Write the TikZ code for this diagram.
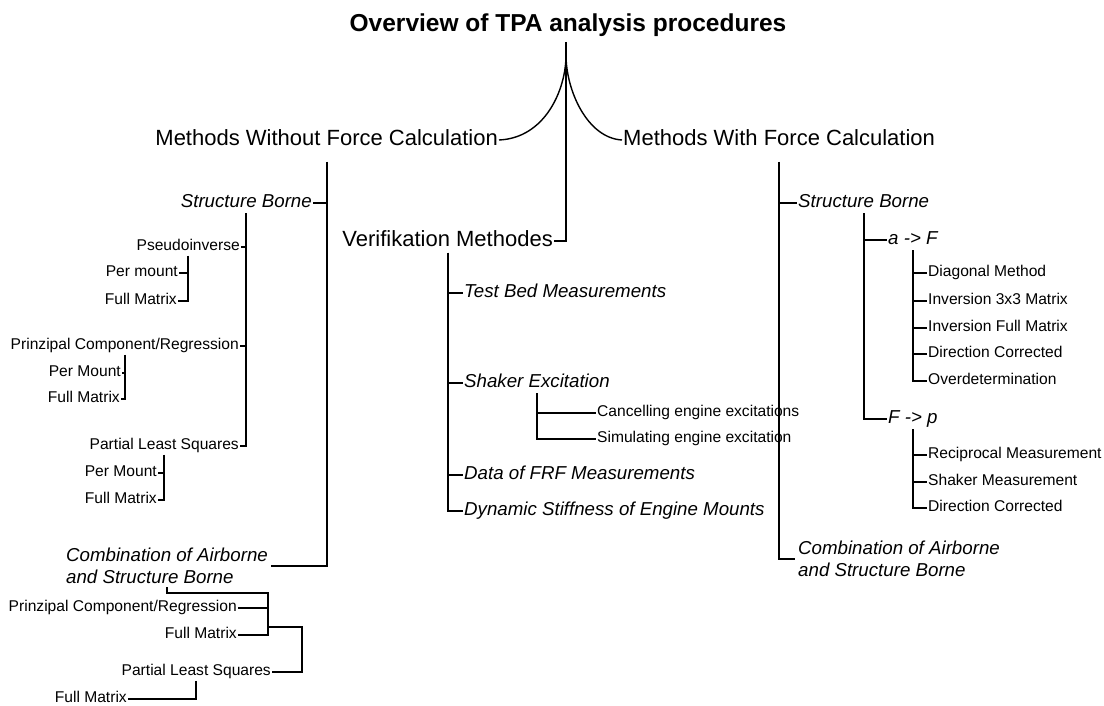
\documentclass[tikz,border=0pt]{standalone}
\usepackage{fontspec}
\setmainfont{Liberation Sans}
\usepackage{tikz}
\usetikzlibrary{calc}

\tikzset{
  lbl/.style={inner sep=1pt},
  headline/.style={lbl, font=\fontsize{24.5}{28}\selectfont\bfseries, text height=17.6pt, text depth=6.1pt},
  topic/.style={lbl, font=\fontsize{22}{26}\selectfont, text height=15.8pt, text depth=5.5pt},
  subtopic/.style={lbl, font=\fontsize{18.7}{22}\selectfont\itshape, text height=13.5pt, text depth=4.7pt},
  leaf/.style={lbl, font=\fontsize{15.6}{18}\selectfont, text height=11.2pt, text depth=3.9pt},
  twoline/.style={font=\fontsize{18.7}{22}\selectfont\itshape, align=left, inner sep=3pt},
  link/.style={line width=1.8pt},
  fork/.style={line width=1.4pt},
}

\begin{document}
\begin{tikzpicture}[x=1pt, y=-1pt]
  \useasboundingbox (0,0) rectangle (1104,706);

  % root and the three main branches
  \node[headline] (title) at (568,26) {Overview of TPA analysis procedures};
  \coordinate (stemtop) at (566,42);
  \coordinate (cusp) at (566,55);
  \node[topic, anchor=east] (mwo) at (499,140) {Methods Without Force Calculation};
  \node[topic, anchor=west] (mw) at (622,140) {Methods With Force Calculation};
  \node[topic, anchor=east] (vm) at (554,241) {Verifikation Methodes};

  \draw[fork] (mwo.east) .. controls (545,138) and (566,90) .. (cusp);
  \draw[fork] (mw.west) .. controls (587,138) and (566,90) .. (cusp);
  \draw[link] (stemtop) |- (vm.east);

  % without force calculation
  \node[subtopic, anchor=east] (lsb) at (313,203) {Structure Borne};
  \node[leaf, anchor=east] (lpi) at (241,247) {Pseudoinverse};
  \node[leaf, anchor=east] (lpm1) at (179,273) {Per mount};
  \node[leaf, anchor=east] (lfm1) at (178,301) {Full Matrix};
  \node[leaf, anchor=east] (lpc) at (240,346) {Prinzipal Component/Regression};
  \node[leaf, anchor=east] (lpm2) at (122,373) {Per Mount};
  \node[leaf, anchor=east] (lfm2) at (121,399) {Full Matrix};
  \node[leaf, anchor=east] (lpls) at (240,446) {Partial Least Squares};
  \node[leaf, anchor=east] (lpm3) at (158,473) {Per Mount};
  \node[leaf, anchor=east] (lfm3) at (158,500) {Full Matrix};
  \node[twoline, anchor=west] (lcomb) at (63,566) {Combination of Airborne\\and Structure Borne};

  \draw[link] ([yshift=-10pt]mwo.south) |- (lsb.east);
  \draw[link] ([yshift=-10pt]mwo.south) |- (lcomb.east);
  \draw[link] (lsb.south) |- (lpi.east);
  \draw[link] (lsb.south) |- (lpc.east);
  \draw[link] (lsb.south) |- (lpls.east);
  \draw[link] (lpi.south) |- (lpm1.east);
  \draw[link] (lpi.south) |- (lfm1.east);
  \draw[link] (lpc.south) |- (lpm2.east);
  \draw[link] (lpc.south) |- (lfm2.east);
  \draw[link] (lpls.south) |- (lpm3.east);
  \draw[link] (lpls.south) |- (lfm3.east);

  % combination, left side
  \coordinate (ljoin) at (268,593);
  \coordinate (lbend) at (302,627);
  \node[leaf, anchor=east] (lpc2) at (238,608) {Prinzipal Component/Regression};
  \node[leaf, anchor=east] (lfm4) at (238,635) {Full Matrix};
  \node[leaf, anchor=east] (lpls2) at (272,672) {Partial Least Squares};
  \node[leaf, anchor=east] (lfm5) at (128,699) {Full Matrix};

  \draw[link] (lcomb.south) |- (ljoin) |- (lfm4.east);
  \draw[link] (lpc2.east) -- (lpc2.east -| ljoin);
  \draw[link] (lbend -| ljoin) -- (lbend) |- (lpls2.east);
  \draw[link] (lpls2.south) |- (lfm5.east);

  % verification
  \node[subtopic, anchor=west] (tbm) at (463,293) {Test Bed Measurements};
  \node[subtopic, anchor=west] (she) at (463,383) {Shaker Excitation};
  \node[leaf, anchor=west] (cee) at (596,413) {Cancelling engine excitations};
  \node[leaf, anchor=west] (see) at (596,439) {Simulating engine excitation};
  \node[subtopic, anchor=west] (frf) at (463,475) {Data of FRF Measurements};
  \node[subtopic, anchor=west] (dse) at (463,511) {Dynamic Stiffness of Engine Mounts};

  \foreach \n in {tbm, she, frf, dse}
    \draw[link] (vm.south) |- (\n.west);
  \draw[fork] (she.south) |- (cee.west);
  \draw[fork] (she.south) |- (see.west);

  % with force calculation
  \node[subtopic, anchor=west] (rsb) at (797,203) {Structure Borne};
  \node[subtopic, anchor=west] (af) at (887,240) {a -> F};
  \node[leaf, anchor=west] (dm) at (927,273) {Diagonal Method};
  \node[leaf, anchor=west] (i33) at (927,301) {Inversion 3x3 Matrix};
  \node[leaf, anchor=west] (ifm) at (927,328) {Inversion Full Matrix};
  \node[leaf, anchor=west] (dc1) at (927,354) {Direction Corrected};
  \node[leaf, anchor=west] (od) at (927,381) {Overdetermination};
  \node[subtopic, anchor=west] (fp) at (887,419) {F -> p};
  \node[leaf, anchor=west] (rm) at (927,455) {Reciprocal Measurement};
  \node[leaf, anchor=west] (sm) at (927,482) {Shaker Measurement};
  \node[leaf, anchor=west] (dc2) at (927,508) {Direction Corrected};
  \node[twoline, anchor=west] (rcomb) at (795,559) {Combination of Airborne\\and Structure Borne};

  \draw[link] ([yshift=-10pt]mw.south) |- (rsb.west);
  \draw[link] ([yshift=-10pt]mw.south) |- (rcomb.west);
  \draw[link] (rsb.south) |- (af.west);
  \draw[link] (rsb.south) |- (fp.west);
  \foreach \n in {dm, i33, ifm, dc1, od}
    \draw[link] (af.south) |- (\n.west);
  \foreach \n in {rm, sm, dc2}
    \draw[link] (fp.south) |- (\n.west);
\end{tikzpicture}
\end{document}
